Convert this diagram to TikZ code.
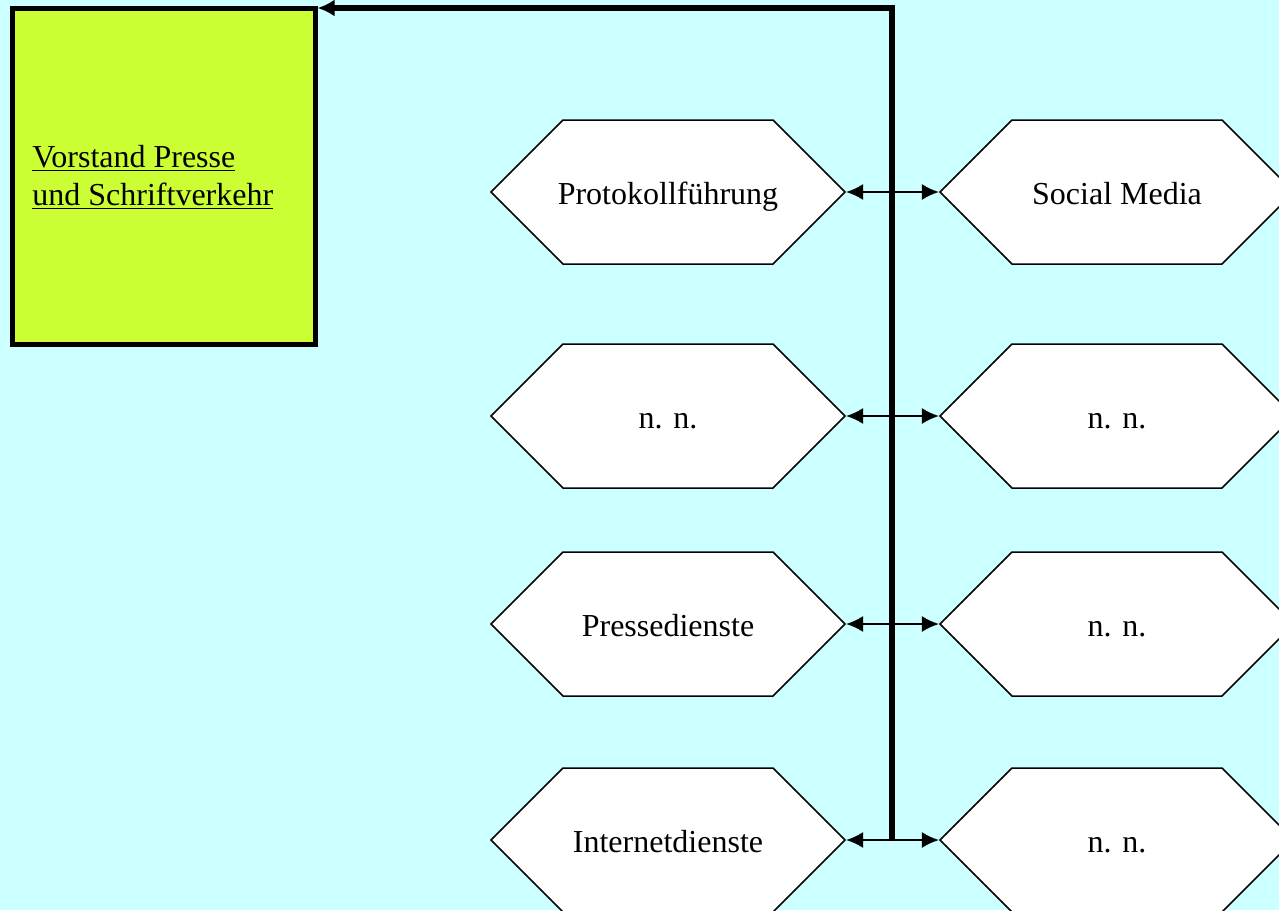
\documentclass[tikz,border=0pt]{standalone}
\usepackage{fontspec}
\setmainfont{Liberation Serif}
\usetikzlibrary{arrows.meta}
\usetikzlibrary{shapes.symbols}
\definecolor{hcyan}{RGB}{204,255,255}
\definecolor{hgreen}{RGB}{204,255,51}
\tikzset{hexa/.style = {draw, fill=white, shape=signal, signal to=east and west,
                        signal pointer angle=90, minimum width=177pt, minimum height=72pt,
                        inner sep=0, text height=12pt, text depth=0pt, line width=0.75pt,
                        font=\fontsize{16}{19}\selectfont}}
\tikzset{link/.style = {line width=1pt, -{Latex[length=8.5pt,width=8pt]}}}
\tikzset{bus/.style = {line width=2.8pt, line join=miter}}
\begin{document}
\begin{tikzpicture}[x=0.5pt, y=-0.5pt]
    \useasboundingbox (0, 0) rectangle (1279, 910);
    \clip (0, 0) rectangle (1279, 910);
    \fill [hcyan] (0, 0) rectangle (1279, 910);

    \node (vorstand) [draw, fill=hgreen, line width=2.5pt, minimum width=151.5pt,
                      minimum height=168pt, inner sep=0] at (163.5, 176) {};
    \node (title) [anchor=base west, align=left, inner sep=0,
                   font=\fontsize{16}{19}\selectfont]
          at (32, 205) {\underline{Vorstand Presse}\\\underline{und Schriftverkehr}};

    \coordinate (top) at (892, 8);
    \coordinate (bottom) at (892, 840);

    \foreach \i/\y/\lt/\rt in {1/192/Protokollführung/Social Media,
                               2/416/n. n./n. n.,
                               3/624/Pressedienste/n. n.,
                               4/840/Internetdienste/n. n.} {
      \node (left\i) [hexa] at (668, \y) {\makebox[0pt]{\lt}};
      \node (right\i) [hexa] at (1117, \y) {\makebox[0pt]{\rt}};
      \coordinate (tap\i) at (892, \y);
      \draw [link] (tap\i) -- (left\i.east);
      \draw [link] (tap\i) -- (right\i.west);
    }

    \draw [bus, -{Latex[length=8.5pt,width=8.5pt]}] (bottom) -- (top) -- (vorstand.north east |- top);
\end{tikzpicture}
\end{document}
